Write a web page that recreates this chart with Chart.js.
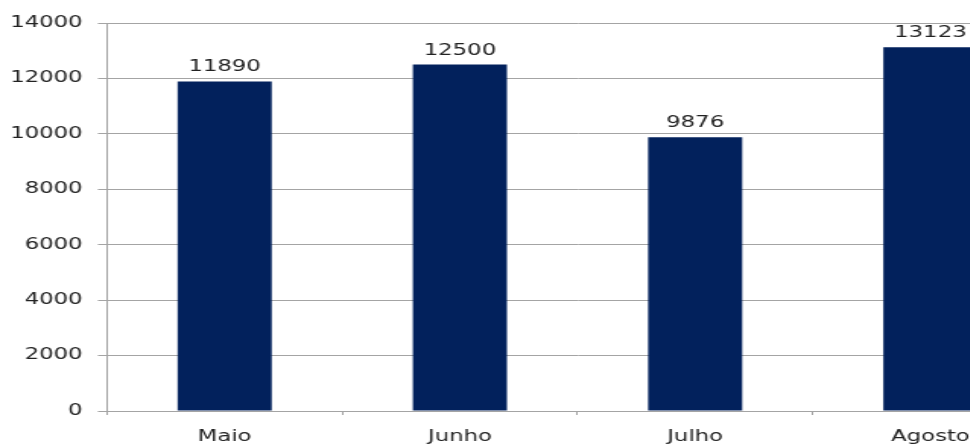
<!DOCTYPE html>
<html>
<head>
<meta charset="utf-8">
<title>Maio - Agosto</title>
<script src="https://cdn.jsdelivr.net/npm/chart.js@4"></script>
<style>
  html, body { margin: 0; padding: 0; background: #fff; overflow: hidden; }
  #wrap { width: 697px; height: 445px; transform: scaleX(1.52); transform-origin: 0 0; }
</style>
</head>
<body>
<div id="wrap"><canvas id="chart" width="697" height="445"></canvas></div>
<script>
const MESES = ["Maio", "Junho", "Julho", "Agosto"];
const VALORES = [11890, 12500, 9876, 13123];
const Y_TICKS = [0, 2000, 4000, 6000, 8000, 10000, 12000, 14000];

const FONTE = {family: "'DejaVu Sans', Verdana, sans-serif", size: 15};
const COR_TEXTO = "#222";
const COR_GRADE = "#a4a4a4";

// escreve o valor acima de cada barra
const rotulos = {
    id: "rotulos",
    afterDatasetsDraw(chart) {
        const ctx = chart.ctx;
        ctx.save();
        ctx.font = `${FONTE.size}px ${FONTE.family}`;
        ctx.fillStyle = COR_TEXTO;
        ctx.textAlign = "center";
        ctx.textBaseline = "alphabetic";
        chart.getDatasetMeta(0).data.forEach((bar, i) => {
            ctx.fillText(String(VALORES[i]), bar.x, bar.y - 10);
        });
        ctx.restore();
    },
};

new Chart(document.getElementById("chart"), {
    type: "bar",
    data: {
        labels: MESES,
        datasets: [{
            data: VALORES,
            backgroundColor: "#02215c",
            borderWidth: 0,
            barPercentage: 0.4,
            categoryPercentage: 1,
        }],
    },
    options: {
        responsive: false,
        animation: false,
        layout: {padding: {top: 23, right: 7.5, bottom: 0, left: 0}},
        plugins: {legend: {display: false}, tooltip: {enabled: false}},
        scales: {
            x: {
                afterFit: (s) => { s.height = 34; },
                grid: {drawOnChartArea: false, drawTicks: true, tickLength: 4, color: COR_GRADE},
                border: {color: COR_GRADE},
                ticks: {font: FONTE, color: COR_TEXTO, padding: 13},
            },
            y: {
                min: 0,
                max: 14000,
                afterFit: (s) => { s.width = 70.4; },
                afterBuildTicks: (s) => { s.ticks = Y_TICKS.map((v) => ({value: v})); },
                grid: {color: COR_GRADE, tickLength: 6},
                border: {color: COR_GRADE},
                ticks: {font: FONTE, color: COR_TEXTO, padding: 10, callback: (v) => String(v)},
            },
        },
    },
    plugins: [rotulos],
});
</script>
</body>
</html>
